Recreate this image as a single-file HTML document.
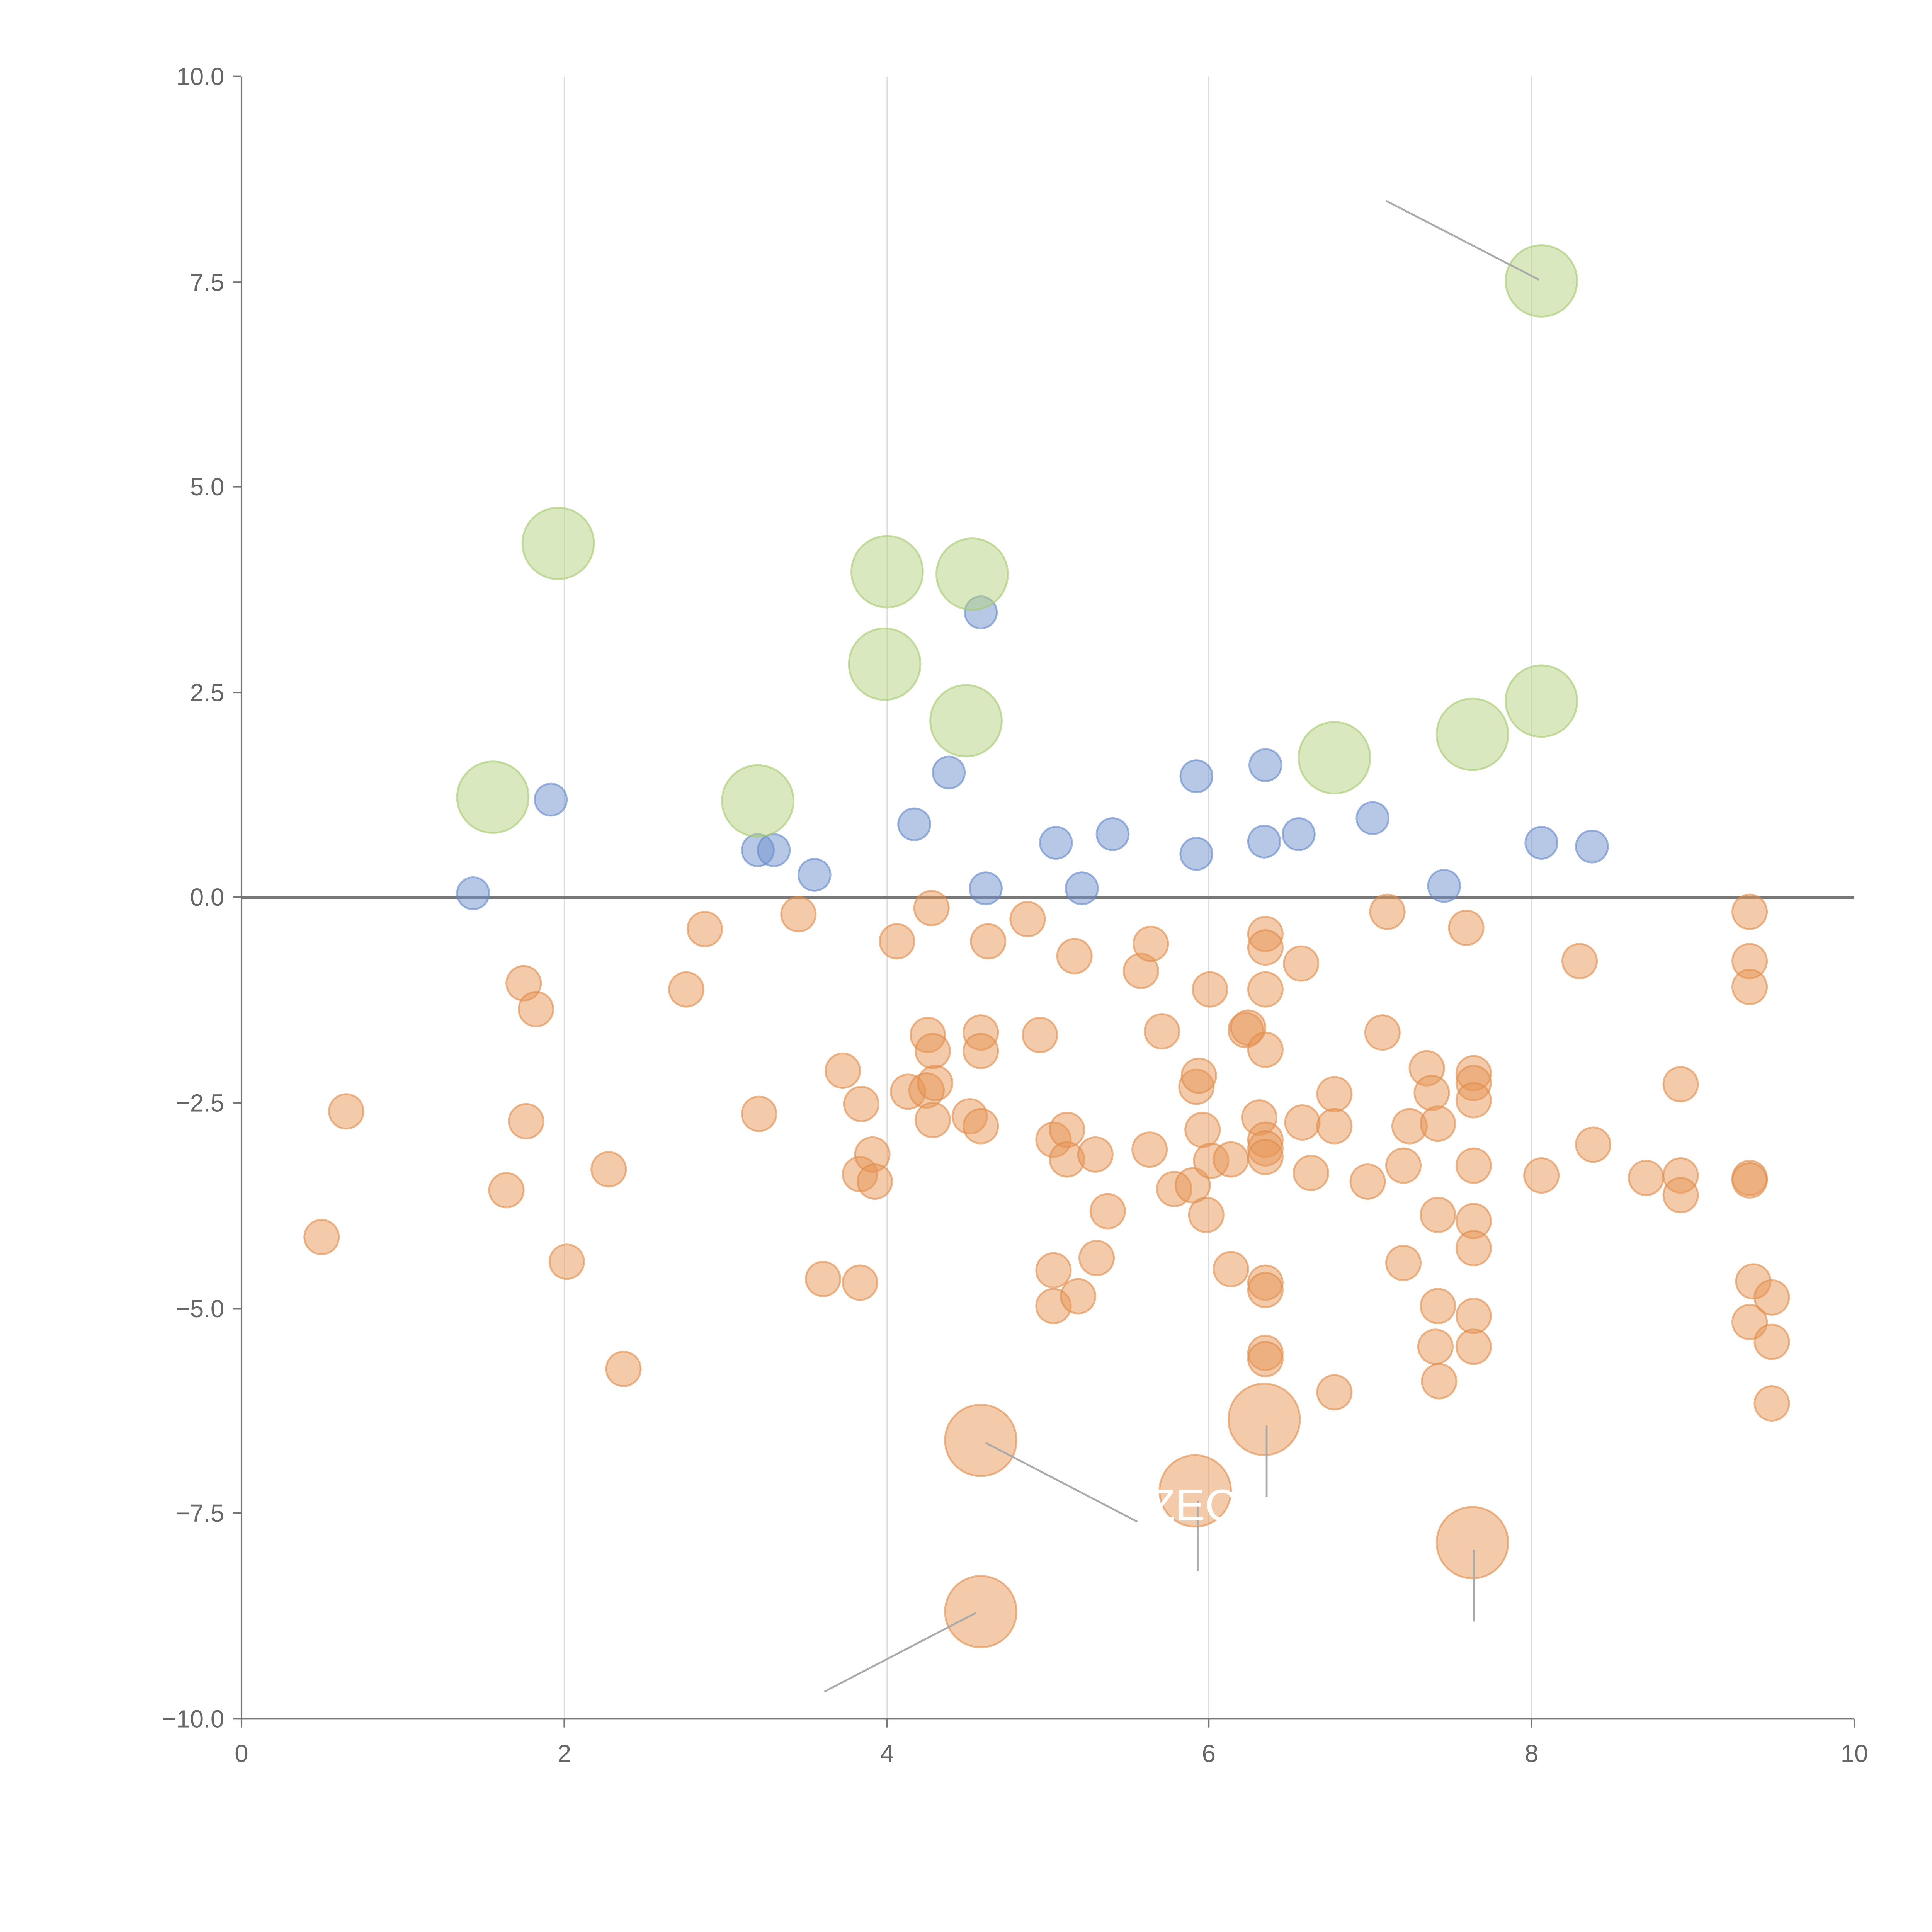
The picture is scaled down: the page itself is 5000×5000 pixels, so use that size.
<!DOCTYPE html>
<html><head><meta charset="utf-8"><style>html,body{margin:0;padding:0;background:#fff}svg{display:block}</style></head>
<body>
<svg width="5000" height="5000" viewBox="0 0 1568 1568" xmlns="http://www.w3.org/2000/svg" font-family="Liberation Sans, sans-serif">
<rect width="1568" height="1568" fill="#fff"/>
<g stroke="#ddd" stroke-width="1">
<line x1="458" y1="62" x2="458" y2="1395"/><line x1="720" y1="62" x2="720" y2="1395"/>
<line x1="981" y1="62" x2="981" y2="1395"/><line x1="1243" y1="62" x2="1243" y2="1395"/>
</g>
<g stroke="#777" stroke-width="1.3" fill="none">
<line x1="196" y1="62" x2="196" y2="1395"/><line x1="196" y1="1395" x2="1505" y2="1395"/>
<line x1="189" y1="62" x2="196" y2="62"/><line x1="189" y1="229" x2="196" y2="229"/><line x1="189" y1="395" x2="196" y2="395"/><line x1="189" y1="562" x2="196" y2="562"/><line x1="189" y1="728" x2="196" y2="728"/><line x1="189" y1="895" x2="196" y2="895"/><line x1="189" y1="1062" x2="196" y2="1062"/><line x1="189" y1="1228" x2="196" y2="1228"/><line x1="189" y1="1395" x2="196" y2="1395"/>
<line x1="196" y1="1395" x2="196" y2="1402"/><line x1="458" y1="1395" x2="458" y2="1402"/><line x1="720" y1="1395" x2="720" y2="1402"/><line x1="981" y1="1395" x2="981" y2="1402"/><line x1="1243" y1="1395" x2="1243" y2="1402"/><line x1="1505" y1="1395" x2="1505" y2="1402"/>
</g>
<g fill="#666" font-size="20" text-anchor="end">
<text x="182" y="69">10.0</text><text x="182" y="236">7.5</text><text x="182" y="402">5.0</text><text x="182" y="569">2.5</text><text x="182" y="735">0.0</text><text x="182" y="902">−2.5</text><text x="182" y="1069">−5.0</text><text x="182" y="1235">−7.5</text><text x="182" y="1402">−10.0</text>
</g>
<g fill="#666" font-size="20" text-anchor="middle">
<text x="196" y="1430">0</text><text x="458" y="1430">2</text><text x="720" y="1430">4</text><text x="981" y="1430">6</text><text x="1243" y="1430">8</text><text x="1505" y="1430">10</text>
</g>
<line x1="196" y1="728.5" x2="1505" y2="728.5" stroke="#777" stroke-width="2.5"/>
<g fill="rgba(232,150,85,0.5)" stroke="rgba(222,140,75,0.6)" stroke-width="1.5">
<circle cx="261" cy="1004" r="14"/><circle cx="281" cy="902" r="14"/><circle cx="425" cy="798" r="14"/><circle cx="435" cy="819" r="14"/><circle cx="427" cy="910" r="14"/><circle cx="411" cy="966" r="14"/><circle cx="460" cy="1024" r="14"/><circle cx="494" cy="949" r="14"/><circle cx="506" cy="1111" r="14"/><circle cx="557" cy="803" r="14"/><circle cx="572" cy="754" r="14"/><circle cx="616" cy="904" r="14"/><circle cx="648" cy="742" r="14"/><circle cx="668" cy="1038" r="14"/><circle cx="698" cy="1041" r="14"/><circle cx="684" cy="869" r="14"/><circle cx="699" cy="896" r="14"/><circle cx="698" cy="953" r="14"/><circle cx="708" cy="937" r="14"/><circle cx="710" cy="959" r="14"/><circle cx="728" cy="764" r="14"/><circle cx="737" cy="886" r="14"/><circle cx="752" cy="885" r="14"/><circle cx="753" cy="840" r="14"/><circle cx="757" cy="853" r="14"/><circle cx="759" cy="879" r="14"/><circle cx="757" cy="909" r="14"/><circle cx="756" cy="737" r="14"/><circle cx="787" cy="906" r="14"/><circle cx="796" cy="838" r="14"/><circle cx="796" cy="853" r="14"/><circle cx="796" cy="914" r="14"/><circle cx="802" cy="764" r="14"/><circle cx="834" cy="746" r="14"/><circle cx="844" cy="840" r="14"/><circle cx="855" cy="925" r="14"/><circle cx="866" cy="917" r="14"/><circle cx="866" cy="941" r="14"/><circle cx="855" cy="1031" r="14"/><circle cx="855" cy="1060" r="14"/><circle cx="875" cy="1052" r="14"/><circle cx="872" cy="776" r="14"/><circle cx="889" cy="937" r="14"/><circle cx="890" cy="1021" r="14"/><circle cx="899" cy="983" r="14"/><circle cx="926" cy="788" r="14"/><circle cx="934" cy="766" r="14"/><circle cx="933" cy="933" r="14"/><circle cx="943" cy="837" r="14"/><circle cx="953" cy="965" r="14"/><circle cx="968" cy="962" r="14"/><circle cx="971" cy="882" r="14"/><circle cx="973" cy="873" r="14"/><circle cx="976" cy="917" r="14"/><circle cx="983" cy="942" r="14"/><circle cx="979" cy="986" r="14"/><circle cx="982" cy="803" r="14"/><circle cx="999" cy="1030" r="14"/><circle cx="999" cy="941" r="14"/><circle cx="1011" cy="836" r="14"/><circle cx="1013" cy="834" r="14"/><circle cx="1027" cy="758" r="14"/><circle cx="1027" cy="769" r="14"/><circle cx="1027" cy="803" r="14"/><circle cx="1027" cy="852" r="14"/><circle cx="1022" cy="907" r="14"/><circle cx="1027" cy="925" r="14"/><circle cx="1027" cy="932" r="14"/><circle cx="1027" cy="939" r="14"/><circle cx="1027" cy="1041" r="14"/><circle cx="1027" cy="1047" r="14"/><circle cx="1027" cy="1098" r="14"/><circle cx="1027" cy="1103" r="14"/><circle cx="1056" cy="782" r="14"/><circle cx="1057" cy="911" r="14"/><circle cx="1064" cy="952" r="14"/><circle cx="1083" cy="888" r="14"/><circle cx="1083" cy="914" r="14"/><circle cx="1083" cy="1130" r="14"/><circle cx="1110" cy="959" r="14"/><circle cx="1126" cy="740" r="14"/><circle cx="1122" cy="838" r="14"/><circle cx="1139" cy="946" r="14"/><circle cx="1139" cy="1025" r="14"/><circle cx="1144" cy="914" r="14"/><circle cx="1158" cy="867" r="14"/><circle cx="1162" cy="887" r="14"/><circle cx="1167" cy="912" r="14"/><circle cx="1167" cy="986" r="14"/><circle cx="1167" cy="1060" r="14"/><circle cx="1165" cy="1093" r="14"/><circle cx="1168" cy="1121" r="14"/><circle cx="1190" cy="753" r="14"/><circle cx="1196" cy="871" r="14"/><circle cx="1196" cy="879" r="14"/><circle cx="1196" cy="893" r="14"/><circle cx="1196" cy="946" r="14"/><circle cx="1196" cy="991" r="14"/><circle cx="1196" cy="1013" r="14"/><circle cx="1196" cy="1068" r="14"/><circle cx="1196" cy="1093" r="14"/><circle cx="1251" cy="954" r="14"/><circle cx="1282" cy="780" r="14"/><circle cx="1293" cy="929" r="14"/><circle cx="1336" cy="956" r="14"/><circle cx="1364" cy="880" r="14"/><circle cx="1364" cy="954" r="14"/><circle cx="1364" cy="970" r="14"/><circle cx="1420" cy="740" r="14"/><circle cx="1420" cy="780" r="14"/><circle cx="1420" cy="801" r="14"/><circle cx="1420" cy="956" r="14"/><circle cx="1420" cy="958" r="14"/><circle cx="1423" cy="1040" r="14"/><circle cx="1420" cy="1073" r="14"/><circle cx="1438" cy="1053" r="14"/><circle cx="1438" cy="1089" r="14"/><circle cx="1438" cy="1139" r="14"/>
<circle cx="796" cy="1169" r="29"/><circle cx="1026" cy="1152" r="29"/><circle cx="970" cy="1210" r="29"/><circle cx="1195" cy="1252" r="29"/><circle cx="796" cy="1308" r="29"/>
</g>
<g fill="rgba(110,145,205,0.5)" stroke="rgba(100,135,200,0.6)" stroke-width="1.5">
<circle cx="384" cy="725" r="13"/><circle cx="447" cy="649" r="13"/><circle cx="615" cy="690" r="13"/><circle cx="628" cy="690" r="13"/><circle cx="661" cy="710" r="13"/><circle cx="742" cy="669" r="13"/><circle cx="770" cy="627" r="13"/><circle cx="796" cy="497" r="13"/><circle cx="800" cy="721" r="13"/><circle cx="857" cy="684" r="13"/><circle cx="903" cy="677" r="13"/><circle cx="878" cy="721" r="13"/><circle cx="971" cy="630" r="13"/><circle cx="971" cy="693" r="13"/><circle cx="1027" cy="621" r="13"/><circle cx="1026" cy="683" r="13"/><circle cx="1054" cy="677" r="13"/><circle cx="1114" cy="664" r="13"/><circle cx="1172" cy="719" r="13"/><circle cx="1251" cy="684" r="13"/><circle cx="1292" cy="687" r="13"/>
</g>
<g fill="rgba(180,210,125,0.5)" stroke="rgba(165,200,110,0.6)" stroke-width="1.5">
<circle cx="453" cy="441" r="29"/><circle cx="720" cy="464" r="29"/><circle cx="789" cy="466" r="29"/><circle cx="718" cy="539" r="29"/><circle cx="784" cy="585" r="29"/><circle cx="400" cy="647" r="29"/><circle cx="615" cy="650" r="29"/><circle cx="1083" cy="615" r="29"/><circle cx="1195" cy="596" r="29"/><circle cx="1251" cy="569" r="29"/><circle cx="1251" cy="228" r="29"/>
</g>
<g stroke="#aaa" stroke-width="1.5">
<line x1="1125" y1="163" x2="1249" y2="227"/><line x1="800" y1="1171" x2="923" y2="1235"/>
<line x1="1028" y1="1157" x2="1028" y2="1215"/><line x1="972" y1="1218" x2="972" y2="1275"/>
<line x1="1196" y1="1258" x2="1196" y2="1316"/><line x1="669" y1="1373" x2="792" y2="1309"/>
</g>
<text x="968" y="1234" fill="#fff" font-size="36" text-anchor="middle">ZEC</text>
</svg>
</body></html>
